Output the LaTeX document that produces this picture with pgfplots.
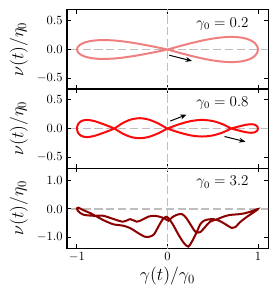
\documentclass[border=0pt]{standalone}
\usepackage{pgfplots}
\pgfplotsset{compat=1.18}
\usetikzlibrary{arrows.meta}
\definecolor{c1}{RGB}{240,128,128}
\definecolor{c2}{RGB}{250,10,10}
\definecolor{c3}{RGB}{139,0,0}
\definecolor{lg}{RGB}{190,190,190}
\pgfplotsset{
  panel/.style={
    scale only axis, width=160.8pt,
    xmin=-1.11, xmax=1.11, xtick={-1,0,1},
    tick align=inside, tick pos=both, major tick length=3.2pt,
    axis line style={line width=0.8pt},
    every tick/.style={black, line width=0.8pt},
    yticklabel style={/pgf/number format/.cd,fixed,fixed zerofill,precision=1},
    ylabel={$\nu(t)/\eta_0$},
    ylabel style={at={(axis description cs:-0.239,0.5)},anchor=center,font=\fontsize{14}{16}\selectfont},
    clip=true,
  },
}
\tikzset{
  zl/.style={lg, line width=1.5pt, dash pattern=on 6.5pt off 3pt},
  arr/.style={-{Stealth[length=5pt,width=4pt]}, line width=0.8pt, black},
  lab/.style={anchor=east, font=\fontsize{11.5}{13}\selectfont},
}
\begin{document}
\begin{tikzpicture}
\begin{axis}[panel, name=p1, at={(0,0)}, anchor=north west, height=63.2pt,
  ymin=-0.69, ymax=0.69, ytick={-0.5,0,0.5}, xticklabel=\empty]
\draw[zl] (axis cs:-1.2,0) -- (axis cs:1.2,0);
\draw[zl] (axis cs:0,-1) -- (axis cs:0,1);
\addplot[c1, line width=1.6pt, smooth] coordinates {
(0,0)(0.1305,-0.0569)(0.2588,-0.11)(0.3827,-0.1556)(0.5,-0.1905)(0.6088,-0.2125)(0.7071,-0.22)(0.7934,-0.2125)(0.866,-0.1905)(0.9239,-0.1556)(0.9659,-0.11)(0.9914,-0.0569)(1,0)
(0.9914,0.0569)(0.9659,0.11)(0.9239,0.1556)(0.866,0.1905)(0.7934,0.2125)(0.7071,0.22)(0.6088,0.2125)(0.5,0.1905)(0.3827,0.1556)(0.2588,0.11)(0.1305,0.0569)(0,0)
(-0.1305,-0.0428)(-0.2588,-0.0825)(-0.3827,-0.1167)(-0.5,-0.1429)(-0.6088,-0.1594)(-0.7071,-0.165)(-0.7934,-0.1594)(-0.866,-0.1429)(-0.9239,-0.1167)(-0.9659,-0.0825)(-0.9914,-0.0428)(-1,0)
(-0.9914,0.0428)(-0.9659,0.0825)(-0.9239,0.1167)(-0.866,0.1429)(-0.7934,0.1594)(-0.7071,0.165)(-0.6088,0.1594)(-0.5,0.1429)(-0.3827,0.1167)(-0.2588,0.0825)(-0.1305,0.0428)(0,0)
};
\draw[arr] (axis cs:0.02,-0.10) -- (axis cs:0.27,-0.2);
\node[lab] at (rel axis cs:0.925,0.82) {$\gamma_0 = 0.2$};
\end{axis}
\begin{axis}[panel, name=p2, at={(p1.south west)}, anchor=north west, height=63.2pt,
  ymin=-0.69, ymax=0.69, ytick={-0.5,0,0.5}, xticklabel=\empty]
\draw[zl] (axis cs:-1.2,0) -- (axis cs:1.2,0);
\draw[zl] (axis cs:0,-1) -- (axis cs:0,1);
\addplot[c2, line width=1.6pt, smooth] coordinates {
(0,0)(0.1305,0.075)(0.2588,0.13)(0.3827,0.15)(0.5,0.13)(0.6088,0.075)(0.7071,0)(0.7934,-0.0375)(0.866,-0.065)(0.9239,-0.075)(0.9659,-0.065)(0.9914,-0.0375)(1,0)
(0.9914,0.0375)(0.9659,0.065)(0.9239,0.075)(0.866,0.065)(0.7934,0.0375)(0.7071,0)(0.6088,-0.07)(0.5,-0.121)(0.3827,-0.14)(0.2588,-0.121)(0.1305,-0.07)(0,0)
(-0.1045,0.09)(-0.2079,0.156)(-0.309,0.18)(-0.4067,0.156)(-0.5,0.09)(-0.5878,0)(-0.7071,-0.075)(-0.809,-0.13)(-0.891,-0.15)(-0.9511,-0.13)(-0.9877,-0.075)(-1,0)
(-0.9877,0.075)(-0.9511,0.13)(-0.891,0.15)(-0.809,0.13)(-0.7071,0.075)(-0.5878,0)(-0.5,-0.085)(-0.4067,-0.147)(-0.309,-0.17)(-0.2079,-0.147)(-0.1045,-0.085)(0,0)
};
\draw[arr] (axis cs:0.03,0.13) -- (axis cs:0.21,0.24);
\draw[arr] (axis cs:0.63,-0.14) -- (axis cs:0.86,-0.23);
\node[lab] at (rel axis cs:0.925,0.82) {$\gamma_0 = 0.8$};
\end{axis}
\begin{axis}[panel, name=p3, at={(p2.south west)}, anchor=north west, height=64pt,
  ymin=-1.38, ymax=1.45, ytick={-1,0,1},
  xlabel={$\gamma(t)/\gamma_0$},
  xlabel style={at={(axis description cs:0.5,-0.35)},anchor=center,font=\fontsize{14}{16}\selectfont}]
\draw[zl] (axis cs:-1.2,0) -- (axis cs:1.2,0);
\draw[zl] (axis cs:0,-2) -- (axis cs:0,2);
\addplot[c3, line width=1.6pt, smooth] coordinates {
(-0.99,0.06)(-0.93,-0.04)(-0.85,-0.15)(-0.78,-0.27)(-0.71,-0.39)(-0.6,-0.54)(-0.49,-0.59)(-0.41,-0.68)(-0.32,-0.86)(-0.25,-0.98)(-0.2,-0.98)(-0.15,-0.9)(-0.1,-0.62)(-0.06,-0.4)(-0.02,-0.28)(0.01,-0.32)(0.06,-0.55)(0.12,-0.9)(0.18,-1.2)(0.23,-1.33)(0.27,-1.15)(0.32,-0.84)(0.36,-0.55)(0.4,-0.42)(0.45,-0.37)(0.51,-0.36)(0.58,-0.43)(0.64,-0.54)(0.71,-0.67)(0.75,-0.64)(0.8,-0.47)(0.88,-0.27)(0.95,-0.12)(1.0,0.0)
(0.91,-0.1)(0.84,-0.16)(0.77,-0.19)(0.69,-0.21)(0.62,-0.27)(0.55,-0.36)(0.47,-0.45)(0.42,-0.62)(0.36,-0.82)(0.31,-0.81)(0.27,-0.63)(0.21,-0.33)(0.16,-0.18)(0.1,-0.21)(0.05,-0.3)(0.01,-0.42)(-0.01,-0.38)(-0.06,-0.3)(-0.14,-0.24)(-0.21,-0.27)(-0.28,-0.38)(-0.34,-0.45)(-0.41,-0.36)(-0.49,-0.45)(-0.6,-0.35)(-0.71,-0.24)(-0.82,-0.24)(-0.93,-0.2)(-0.985,-0.08)(-1.0,0.02)(-0.99,0.06)
};
\node[lab] at (rel axis cs:0.925,0.82) {$\gamma_0 = 3.2$};
\end{axis}
\pgfresetboundingbox
\path[use as bounding box] (-53.6pt,8pt) rectangle (168.8pt,-232pt);
\end{tikzpicture}
\end{document}
